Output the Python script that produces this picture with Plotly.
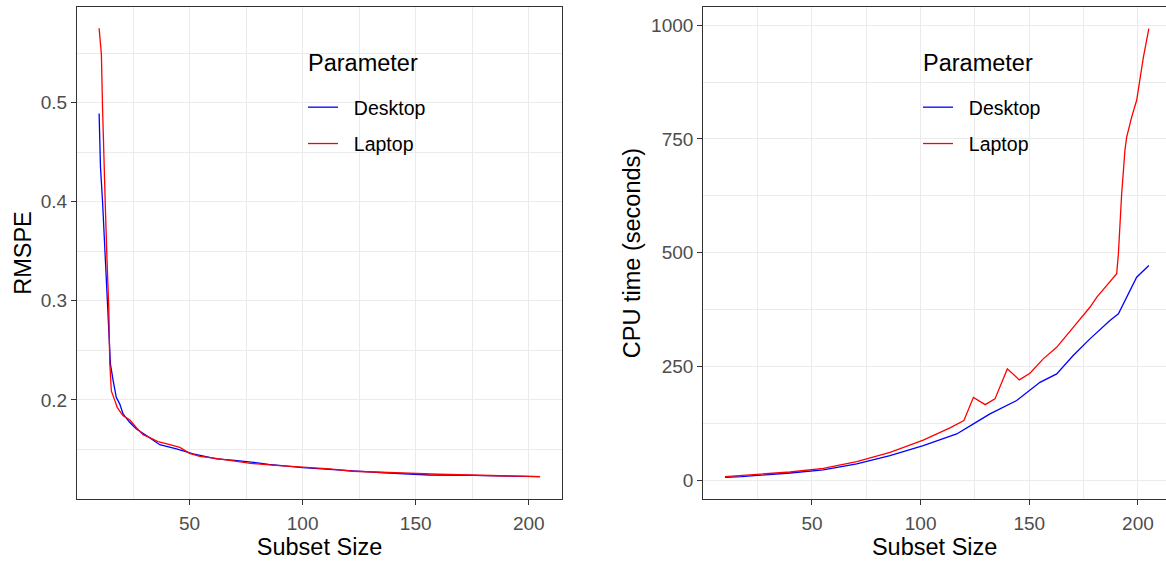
import plotly.graph_objects as go

# ---------------- data ----------------
rmspe_laptop_x = [10, 11, 11.5, 12, 12.8, 13.5, 14.3, 14.7, 15.4, 17, 18, 20.6, 23.5, 26.5, 29.4,
                  32.4, 36, 40, 45.7, 50, 54.5, 60, 68, 77, 88, 100, 112, 122, 133, 145, 160,
                  174, 187, 195, 205]
rmspe_laptop_y = [0.575, 0.549, 0.496, 0.445, 0.391, 0.341, 0.291, 0.238, 0.209, 0.199, 0.1925,
                  0.184, 0.180, 0.172, 0.165, 0.162, 0.158, 0.1556, 0.152, 0.146, 0.143, 0.1415,
                  0.139, 0.136, 0.134, 0.1326, 0.1305, 0.128, 0.127, 0.1259, 0.125, 0.1242,
                  0.1232, 0.1228, 0.1225]

rmspe_desktop_x = [10, 10.6, 11.5, 12.3, 12.9, 14, 15, 16.2, 17.6, 19.1, 20.6, 23.5, 26.5, 30.9,
                   36.8, 44.2, 51.6, 61.9, 70, 80, 85, 100, 111, 122, 136, 145, 156, 175, 190, 205]
rmspe_desktop_y = [0.489, 0.435, 0.401, 0.363, 0.329, 0.28, 0.2364, 0.2195, 0.2026, 0.196,
                   0.1859, 0.1774, 0.1707, 0.164, 0.1548, 0.1505, 0.1455, 0.1404, 0.139, 0.1365,
                   0.135, 0.1316, 0.1296, 0.1283, 0.1265, 0.1258, 0.1242, 0.1238, 0.1230, 0.1225]

cpu_laptop_x = [10, 24.5, 39.9, 55.2, 70.6, 85.9, 101.2, 113.5, 119.9, 124.3, 129.7, 134.2, 139.9,
                145.4, 150.3, 156.4, 162.6, 170.2, 177.9, 181, 190.2, 191, 191.7, 192.5, 193.2,
                194, 194.8, 197.1, 199.4, 200.9, 202.5, 204, 205]
cpu_laptop_y = [7.7, 12, 18, 26, 40.7, 61, 88, 115, 131, 182, 166, 178.6, 244.6, 220.4, 235,
                266.6, 292, 336, 380, 402, 453.7, 497.6, 578, 629.7, 673.7, 725, 754, 798, 835,
                886, 930, 967, 992.7]

cpu_desktop_x = [10, 17.6, 39.9, 55.2, 70.6, 85.9, 101.2, 116.6, 124.3, 131.9, 144.2, 154.9,
                 162.6, 170.2, 177.9, 187.1, 191, 194, 194.8, 199.4, 205]
cpu_desktop_y = [6, 7.7, 15.8, 22.4, 35.6, 54, 76, 101.6, 123.6, 145.6, 175, 215, 233.6, 274,
                 310.6, 351, 365.7, 395, 402, 446, 472]

series_names = ["Desktop", "Laptop"]
x_ticks = [50, 100, 150, 200]
x_minor = [25, 75, 125, 175]
rmspe_ticks = [0.2, 0.3, 0.4, 0.5]
rmspe_minor = [0.15, 0.25, 0.35, 0.45, 0.55]
cpu_ticks = [0, 250, 500, 750, 1000]
cpu_minor = [125, 375, 625, 875]

BLUE = "#0000FF"
RED = "#FF0000"
GRID = "#EBEBEB"
BORDER = "#333333"
FAM = "Liberation Sans, Arial, sans-serif"
TICKFONT = dict(family=FAM, size=19, color="#4D4D4D")
TITLEFONT = dict(family=FAM, size=23.5, color="#000000")
LEGFONT = dict(family=FAM, size=19.5, color="#000000")
NB = "\u00a0\u00a0"

fig = go.Figure()

fig.add_trace(go.Scatter(x=rmspe_desktop_x, y=rmspe_desktop_y, mode="lines", name=NB + series_names[0],
                         line=dict(color=BLUE, width=1.3), xaxis="x", yaxis="y",
                         legend="legend", legendgroup="d1"))
fig.add_trace(go.Scatter(x=rmspe_laptop_x, y=rmspe_laptop_y, mode="lines", name=NB + series_names[1],
                         line=dict(color=RED, width=1.3), xaxis="x", yaxis="y",
                         legend="legend", legendgroup="l1"))
fig.add_trace(go.Scatter(x=cpu_desktop_x, y=cpu_desktop_y, mode="lines", name=NB + series_names[0],
                         line=dict(color=BLUE, width=1.3), xaxis="x2", yaxis="y2",
                         legend="legend2", legendgroup="d2"))
fig.add_trace(go.Scatter(x=cpu_laptop_x, y=cpu_laptop_y, mode="lines", name=NB + series_names[1],
                         line=dict(color=RED, width=1.3), xaxis="x2", yaxis="y2",
                         legend="legend2", legendgroup="l2"))

W, H = 1166, 565
ML, MR, MT, MB = 77, 0, 7, 66
pw = W - ML - MR
ph = H - MT - MB

def px_x(p):
    return (p - ML) / pw

def px_y(p):
    return (H - MB - p) / ph

def ax(**kw):
    base = dict(showgrid=True, gridcolor=GRID, gridwidth=1.1, zeroline=False,
                showline=True, linecolor=BORDER, linewidth=1.3, automargin=False,
                ticks="outside", ticklen=5, tickcolor=BORDER, tickwidth=1.1,
                tickfont=TICKFONT, title_font=TITLEFONT)
    base.update(kw)
    return base

minor_kw = dict(showgrid=True, gridcolor=GRID, gridwidth=0.7)

fig.update_layout(
    width=W, height=H, autosize=False,
    margin=dict(l=ML, r=MR, t=MT, b=MB, pad=0),
    paper_bgcolor="white", plot_bgcolor="white",
    font=dict(family=FAM),
    xaxis=ax(domain=[0, px_x(562)], range=[0.22, 214.7], anchor="y",
             tickvals=x_ticks, mirror=True, minor=dict(tickvals=x_minor, **minor_kw),
             ticklabelstandoff=2, title=dict(text="Subset Size", standoff=2)),
    yaxis=ax(domain=[0, 1], range=[0.1, 0.5965], anchor="x",
             tickvals=rmspe_ticks, tickformat=".1f", mirror=True,
             minor=dict(tickvals=rmspe_minor, **minor_kw),
             title=dict(text="RMSPE", standoff=2)),
    xaxis2=ax(domain=[px_x(703.3), 1], range=[0, 212.9], anchor="y2",
              tickvals=x_ticks, mirror=True, minor=dict(tickvals=x_minor, **minor_kw),
              ticklabelstandoff=2, title=dict(text="Subset Size", standoff=2)),
    yaxis2=ax(domain=[0, 1], range=[-41.4, 1040], anchor="x2",
              tickvals=cpu_ticks, mirror=False,
              minor=dict(tickvals=cpu_minor, **minor_kw),
              title=dict(text="CPU time (seconds)", standoff=3)),
    legend=dict(x=px_x(303), y=px_y(88), xanchor="left", yanchor="top",
                bgcolor="rgba(255,255,255,0)", borderwidth=0,
                font=LEGFONT, tracegroupgap=8, itemwidth=30),
    legend2=dict(x=px_x(918), y=px_y(88), xanchor="left", yanchor="top",
                 bgcolor="rgba(255,255,255,0)", borderwidth=0,
                 font=LEGFONT, tracegroupgap=8, itemwidth=30),
    shapes=[
        dict(type="rect", xref="paper", yref="paper", layer="between",
             x0=px_x(293), x1=px_x(440), y0=px_y(170), y1=px_y(37),
             fillcolor="white", line=dict(width=0)),
        dict(type="rect", xref="paper", yref="paper", layer="between",
             x0=px_x(908), x1=px_x(1055), y0=px_y(170), y1=px_y(37),
             fillcolor="white", line=dict(width=0)),
    ],
    annotations=[
        dict(text="Parameter", xref="paper", yref="paper", x=px_x(306), y=px_y(63),
             xanchor="left", yanchor="middle", showarrow=False,
             font=dict(family=FAM, size=23.5, color="#000")),
        dict(text="Parameter", xref="paper", yref="paper", x=px_x(921), y=px_y(63),
             xanchor="left", yanchor="middle", showarrow=False,
             font=dict(family=FAM, size=23.5, color="#000")),
    ],
)

fig.write_html("out.html", config={"displayModeBar": False},
               post_script="document.body.style.margin='0';")
